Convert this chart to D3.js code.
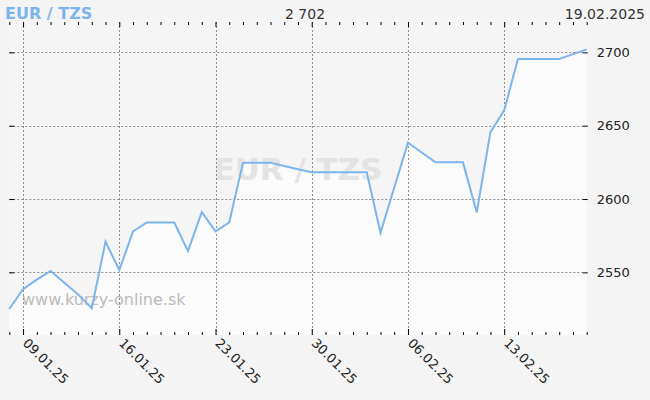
<!DOCTYPE html>
<html>
<head>
<meta charset="utf-8">
<script src="https://cdn.jsdelivr.net/npm/d3@7"></script>
<style>
  body { margin: 0; background: #f4f4f4; }
  svg { display: block; font-family: "DejaVu Sans", sans-serif; }
</style>
</head>
<body>
<div id="chart"></div>
<script>
// daily EUR/TZS rates, 08.01.2025 - 19.02.2025
var startDate = "2025-01-08";
var values = [
  2525, 2538.5, 2545, 2551, 2543, 2535, 2525.5, 2571, 2551.5, 2578,
  2584, 2584, 2584, 2564.5, 2591, 2578, 2584, 2624.7, 2624.7, 2624.7,
  2622.5, 2620.3, 2618.2, 2618.2, 2618.2, 2618.2, 2618.2, 2577, 2607.7, 2638.4,
  2631.7, 2625, 2625, 2625, 2590.8, 2645.6, 2660.5, 2695.4, 2695.4, 2695.4,
  2695.4, 2698.8, 2702
];
var weekTicks = ["2025-01-09", "2025-01-16", "2025-01-23", "2025-01-30", "2025-02-06", "2025-02-13"];
var yTicks = [2550, 2600, 2650, 2700];
var title = "EUR / TZS";
var lastValue = "2 702";
var lastDate = "19.02.2025";
var siteName = "www.kurzy-online.sk";

var width = 650, height = 400;
var plot = { left: 9.3, right: 586.7, top: 22, bottom: 335 };

var parse = d3.utcParse("%Y-%m-%d");
var fmt = d3.utcFormat("%d.%m.%y");
var t0 = parse(startDate);
var data = values.map(function(v, i) {
  return { date: d3.utcDay.offset(t0, i), value: v };
});
var t1 = data[data.length - 1].date;

var svg = d3.select("#chart").append("svg")
  .attr("width", width)
  .attr("height", height);

svg.append("rect")
  .attr("width", width).attr("height", height)
  .attr("fill", "#f4f4f4");

var x = d3.scaleUtc().domain([t0, t1]).range([plot.left, plot.right]);
var y = d3.scaleLinear().domain([2507.3, 2720.7]).range([plot.bottom, plot.top]);

svg.append("rect")
  .attr("x", plot.left).attr("y", plot.top)
  .attr("width", plot.right - plot.left)
  .attr("height", plot.bottom - plot.top)
  .attr("fill", "#f5f5f5");

// area under the line
var area = d3.area()
  .x(function(d) { return x(d.date); })
  .y0(plot.bottom)
  .y1(function(d) { return y(d.value); });

svg.append("path")
  .datum(data)
  .attr("d", area)
  .attr("fill", "#fbfbfb");

// watermark
svg.append("text")
  .attr("x", 298).attr("y", 180)
  .attr("text-anchor", "middle")
  .attr("font-size", 31)
  .attr("font-weight", "bold")
  .attr("fill", "#e4e4e4")
  .text(title);

svg.append("text")
  .attr("x", 22).attr("y", 305)
  .attr("font-size", 16)
  .attr("fill", "#bbbbbb")
  .text(siteName);

// grid
var weeks = weekTicks.map(parse);
svg.append("g").selectAll("line")
  .data(weeks).enter().append("line")
  .attr("x1", function(d) { return Math.round(x(d)) + 0.5; })
  .attr("x2", function(d) { return Math.round(x(d)) + 0.5; })
  .attr("y1", plot.top).attr("y2", plot.bottom)
  .attr("stroke", "#8e8e8e")
  .attr("stroke-dasharray", "2,2");

svg.append("g").selectAll("line")
  .data(yTicks).enter().append("line")
  .attr("x1", plot.left).attr("x2", plot.right - 4)
  .attr("y1", function(d) { return Math.round(y(d)) + 0.5; })
  .attr("y2", function(d) { return Math.round(y(d)) + 0.5; })
  .attr("stroke", "#8e8e8e")
  .attr("stroke-dasharray", "2,2");

// daily ticks top and bottom
var days = d3.utcDay.range(t0, d3.utcDay.offset(t1, 1));
var isWeek = function(d) { return weekTicks.indexOf(d3.utcFormat("%Y-%m-%d")(d)) >= 0; };

var xAxisTop = d3.axisBottom(x).tickValues(days).tickSize(3).tickFormat("");
svg.append("g")
  .attr("transform", "translate(0," + plot.top + ")")
  .call(xAxisTop)
  .call(function(g) {
    g.select(".domain").remove();
    g.selectAll(".tick line").attr("y2", function(d) { return isWeek(d) ? 5 : 3; });
  });

var xAxis = d3.axisTop(x).tickValues(days).tickSize(3).tickFormat("");
svg.append("g")
  .attr("transform", "translate(0," + plot.bottom + ")")
  .call(xAxis)
  .call(function(g) {
    g.select(".domain").remove();
    g.selectAll(".tick line").attr("y2", function(d) { return isWeek(d) ? -6 : -3; });
  });

// rotated date labels
svg.append("g").selectAll("text")
  .data(weeks).enter().append("text")
  .attr("transform", function(d) {
    return "translate(" + (x(d) - 1) + "," + (plot.bottom + 9) + ") rotate(45)";
  })
  .attr("font-size", 13)
  .attr("fill", "#222")
  .text(function(d) { return fmt(d); });

// y ticks left and right
var yLeft = d3.axisRight(y).tickValues(yTicks).tickSize(5).tickFormat("");
svg.append("g")
  .attr("transform", "translate(" + plot.left + ",0)")
  .call(yLeft)
  .call(function(g) { g.select(".domain").remove(); });

var yRight = d3.axisRight(y).tickValues(yTicks).tickSize(5).tickPadding(9).tickFormat(d3.format("d"));
svg.append("g")
  .attr("transform", "translate(" + (plot.right - 4) + ",0)")
  .call(yRight)
  .call(function(g) {
    g.select(".domain").remove();
    g.selectAll(".tick text")
      .attr("font-size", 13)
      .attr("font-family", "DejaVu Sans, sans-serif")
      .attr("fill", "#222");
  });

// line
var line = d3.line()
  .x(function(d) { return x(d.date); })
  .y(function(d) { return y(d.value); });

svg.append("path")
  .datum(data)
  .attr("d", line)
  .attr("fill", "none")
  .attr("stroke", "#7cb5ec")
  .attr("stroke-width", 2);

// header
svg.append("text")
  .attr("x", 5).attr("y", 19)
  .attr("font-size", 16)
  .attr("font-weight", "bold")
  .attr("fill", "#7cb5ec")
  .text(title);

svg.append("text")
  .attr("x", 305).attr("y", 19)
  .attr("text-anchor", "middle")
  .attr("font-size", 14)
  .attr("fill", "#333")
  .text(lastValue);

svg.append("text")
  .attr("x", 645).attr("y", 19)
  .attr("text-anchor", "end")
  .attr("font-size", 14)
  .attr("fill", "#333")
  .text(lastDate);
</script>
</body>
</html>
